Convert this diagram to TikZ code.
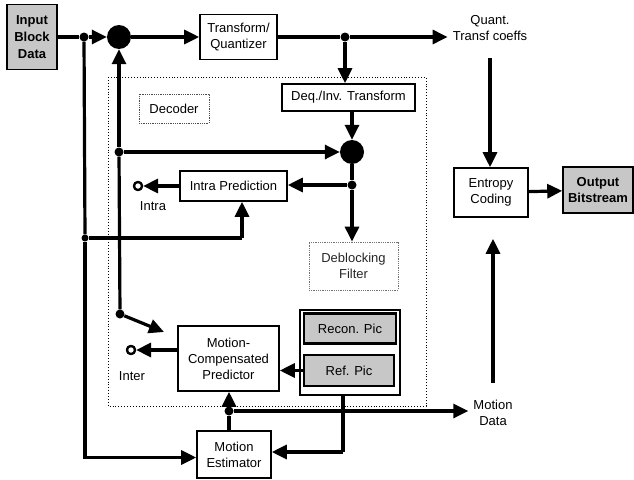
\documentclass[tikz,border=0pt]{standalone}
\usepackage{fontspec}
\setmainfont{Liberation Sans}
\usetikzlibrary{arrows.meta,positioning,calc}

\begin{document}
\begin{tikzpicture}[
    x=1pt, y=-1pt,
    >={Triangle[length=15pt,width=14pt]},
    txt/.style={align=center, font=\fontsize{13}{16}\selectfont},
    box/.style={txt, draw, line width=1.6pt, fill=white, inner sep=1pt},
    graybox/.style={box, fill=black!22},
    dotbox/.style={txt, draw, densely dotted, line width=0.8pt, inner sep=1pt},
    sumnode/.style={circle, fill=black, minimum size=24pt, inner sep=0pt},
    jdot/.style={circle, fill=black, minimum size=9pt, inner sep=0pt},
    term/.style={circle, draw, fill=white, line width=2.2pt, minimum size=8pt, inner sep=0pt},
    wire/.style={line width=3.2pt},
    arrow/.style={->, line width=3.2pt},
  ]
  \useasboundingbox (0,0) rectangle (634,479);

  % decoder frame
  \draw[dotted, line width=0.9pt] (108,77) rectangle (426,406);

  % blocks
  \node[graybox, font=\fontsize{13}{17}\selectfont\bfseries,
        minimum width=50pt, minimum height=65pt] (input) at (32,37) {Input\\Block\\Data};
  \node[sumnode] (sum1) at (119,37) {};
  \node[box, minimum width=77pt, minimum height=45pt] (tq) at (238.5,37) {Transform/\\Quantizer};
  \node[txt, inner sep=5pt] (quant) at (490,28) {Quant.\\Transf coeffs};
  \node[box, minimum width=133pt, minimum height=27pt] (deq) at (348.5,97.5) {Deq./Inv. Transform};
  \node[dotbox, draw=black!70, minimum width=70pt, minimum height=29pt] (declabel) at (174,108.5) {Decoder};
  \node[sumnode] (sum2) at (352,152) {};
  \node[box, minimum width=107pt, minimum height=30pt] (intra) at (233.5,186) {Intra Prediction};
  \node[dotbox, draw=black!55, text=black!85, minimum width=89pt, minimum height=48pt] (deblock) at (353.5,266) {Deblocking\\Filter};
  \node[box, minimum width=101pt, minimum height=65pt] (mcp) at (228.5,358.5) {Motion-\\Compensated\\Predictor};
  \node[box, minimum width=100pt, minimum height=85pt] (picbox) at (350,352.5) {};
  \node[graybox, line width=2.2pt, minimum width=92pt, minimum height=30pt] (recon) at (350,328.5) {Recon. Pic};
  \node[graybox, line width=2.2pt, minimum width=90pt, minimum height=31pt] (ref) at (349,370.5) {Ref. Pic};
  \node[box, minimum width=74pt, minimum height=47pt] (me) at (234,454.5) {Motion\\Estimator};
  \node[box, minimum width=74pt, minimum height=49pt] (entropy) at (491,192.5) {Entropy\\Coding};
  \node[graybox, font=\fontsize{13}{16}\selectfont\bfseries,
        minimum width=70pt, minimum height=46pt] (output) at (598,190) {Output\\Bitstream};
  \node[txt, inner sep=5pt] (mdata) at (493,413) {Motion\\Data};

  % junctions and switch terminals
  \node[jdot] (j1) at (84,37) {};
  \node[jdot] (j2) at (345,37) {};
  \node[jdot] (j3) at (119,152) {};
  \node[jdot] (j4) at (352,185) {};
  \node[jdot] (j5) at (120,314) {};
  \node[jdot] (j6) at (229,411) {};
  \node[jdot, minimum size=7pt] (hop) at (85,238) {};
  \node[term] (tintra) at (138,186) {};
  \node[term] (tinter) at (131,350) {};
  \node[txt] (lintra) at (153,206) {Intra};
  \node[txt] (linter) at (132,376) {Inter};
  \coordinate (swend) at (164,332);
  \coordinate (ibend) at (242,238);
  \coordinate (pbend) at (343,452);

  % encoder forward path
  \draw[wire] (input) -- (j1);
  \draw[arrow] (j1) -- (sum1);
  \draw[arrow] (sum1) -- (tq);
  \draw[wire] (tq) -- (j2);
  \draw[arrow] (j2) -- (j2 -| quant.west);
  \draw[arrow] (quant.south) ++(0,12) -- (quant.south |- entropy.north);
  \draw[arrow] (entropy) -- (output);

  % reconstruction loop
  \draw[arrow] (j2) -- (j2 |- deq.north);
  \draw[arrow] (deq.south -| sum2) -- (sum2);
  \draw[wire] (j5) -- (j3);
  \draw[arrow] (j3) -- (sum1);
  \draw[arrow] (j3) -- (sum2);
  \draw[wire] (sum2) -- (j4);
  \draw[arrow] (j4) -- (j4 |- deblock.north);
  \draw[arrow] (j4) -- (j4 -| intra.east);
  \draw[arrow] (intra) -- (tintra);
  \draw[wire] (hop) -- (ibend);
  \draw[arrow] (ibend) -- (ibend |- intra.south);
  \draw[arrow] (j5) -- (swend);

  % motion path
  \draw[wire] (j1) -- (hop);
  \draw[arrow] (hop) |- ([yshift=-3pt]me.west);
  \draw[arrow] (tinter -| mcp.west) -- (tinter);
  \draw[arrow] (ref.west) -- (ref.west -| mcp.east);
  \draw[wire] (j6 |- me.north) -- (j6);
  \draw[arrow] (j6) -- (j6 |- mcp.south);
  \draw[arrow] (j6) -- (j6 -| mdata.west);
  \draw[wire] (pbend |- picbox.south) -- (pbend);
  \draw[arrow] (pbend) -- (pbend -| me.east);
  \draw[arrow, shorten <=12pt, shorten >=21pt] (mdata.north) -- (mdata.north |- entropy.south);

  % redraw the switch terminals over the wires
  \node[term] at (tintra) {};
  \node[term] at (tinter) {};
\end{tikzpicture}
\end{document}
